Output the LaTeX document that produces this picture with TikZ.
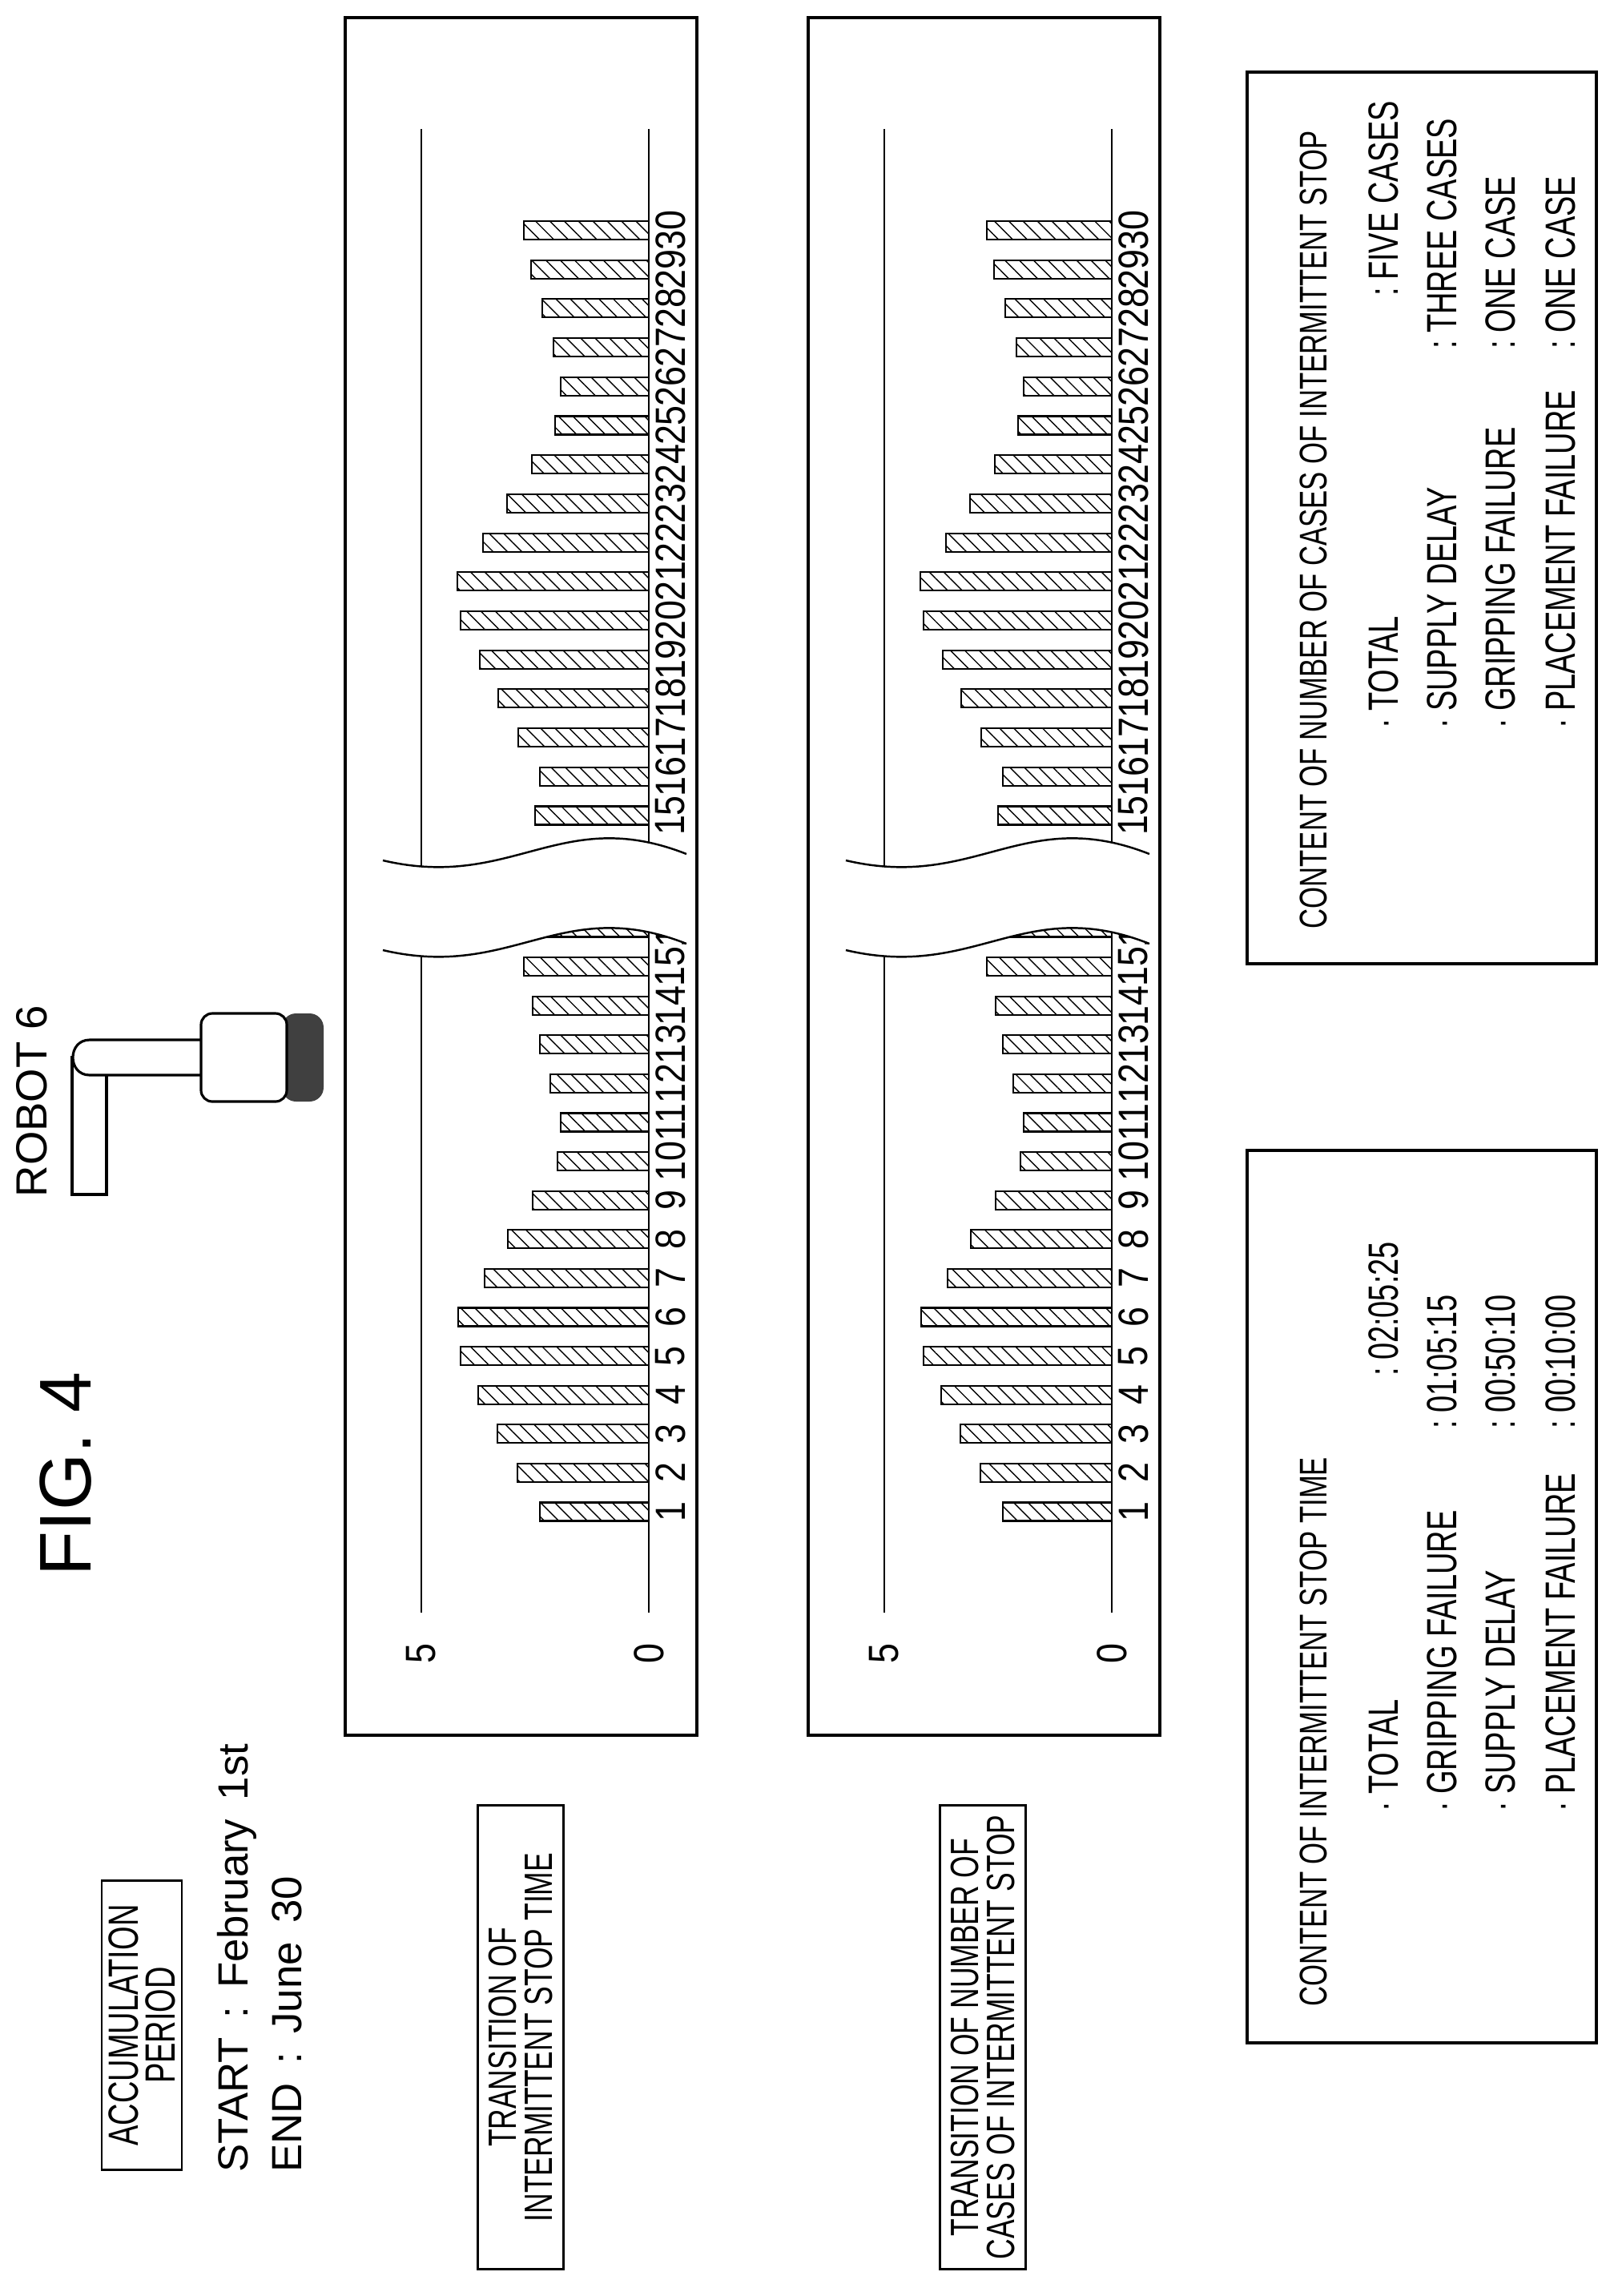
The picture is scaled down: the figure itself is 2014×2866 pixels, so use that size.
\documentclass[tikz,border=0pt]{standalone}
\usepackage{fontspec}
\usepackage{tikz}
\usetikzlibrary{patterns.meta}
\setmainfont{Liberation Sans}
\newfontfamily\narrowfont{Liberation Sans}[FakeStretch=0.72]
\newfontfamily\digitfont{Liberation Sans}[FakeStretch=0.85]

\tikzset{
  frame/.style={draw, line width=1.1pt},
  axisline/.style={line width=0.8pt},
  bar/.style={draw, line width=0.6pt, pattern={Lines[angle=-45, distance=3.6pt, line width=0.4pt]}},
  vtext/.style={rotate=90, inner sep=0pt},
  caption/.style={draw, line width=0.8pt, rotate=90, align=center, inner sep=2pt, font=\narrowfont\fontsize{14}{13}\selectfont},
  itemtext/.style={rotate=90, anchor=west, inner sep=0pt, font=\narrowfont\fontsize{15}{15}\selectfont},
  ticklabel/.style={rotate=90, inner sep=0pt, font=\digitfont\fontsize{15}{15}\selectfont},
}

\begin{document}
\begin{tikzpicture}[x=0.01cm, y=-0.01cm]
        \useasboundingbox (0,0) rectangle (2014,2866);

        % Titles
        \node (fig) [vtext, font=\fontsize{26}{26}\selectfont] at (82,1840) {FIG. 4};
        \node (robotlabel) [vtext, anchor=west, font=\fontsize{15.5}{16}\selectfont] at (40,1495) {ROBOT 6};
        \node (period) [caption, minimum width=3.61cm, minimum height=1.0cm, font=\narrowfont\fontsize{15}{13}\selectfont] at (177,2528) {ACCUMULATION\\PERIOD};
        \node (start) [vtext, anchor=west, font=\fontsize{15}{15}\selectfont] at (296,2712) {START\, :\, February\, 1st};
        \node (end) [vtext, anchor=west, font=\fontsize{15}{15}\selectfont] at (358,2712) {END\, :\, June\, 30};
        \node (timecap) [caption, minimum width=5.79cm, minimum height=1.07cm] at (650,2543) {TRANSITION OF\\INTERMITTENT STOP TIME};
        \node (casecap) [caption, minimum width=5.79cm, minimum height=1.07cm] at (1227,2543) {TRANSITION OF NUMBER OF\\CASES OF INTERMITTENT STOP};

        % Robot
        \draw[line width=0.9pt] (90,1320) rectangle (133,1491);
        \draw[line width=0.9pt, fill=white] (251,1298) -- (112,1298) .. controls (84,1298) and (84,1342) .. (112,1342) -- (251,1342);
        \fill[black!75, rounded corners=5pt] (352,1265) rectangle (404,1375);
        \draw[line width=0.9pt, fill=white, rounded corners=4pt] (251,1265) rectangle (358,1375);

        % Charts
        \foreach \dx/\nm in {0/time, 578/cases} {
          \begin{scope}[xshift=\dx*0.01cm]
            \draw[frame] (431,22) rectangle (870,2166);
            \draw[axisline] (810,161) -- (810,2013);
            \draw[axisline] (526,161) -- (526,2013);
            \node (\nm-zero) [ticklabel] at (810,2064) {0};
            \node (\nm-five) [ticklabel] at (526,2064) {5};
            \foreach \i/\len in {1/136, 2/164, 3/189, 4/213, 5/235, 6/238, 7/205, 8/176, 9/145, 10/114, 11/110, 12/123, 13/136, 14/145, 15/156, 16/150} {
              \draw[bar] (810-\len,1887-\i*48.6+48.6-11.5) rectangle (810,1887-\i*48.6+48.6+11.5);
              \node (\nm-a\i) [ticklabel] at (837,1887-\i*48.6+48.6) {\i};
            }
            \foreach \i/\len in {15/142, 16/136, 17/163, 18/188, 19/211, 20/235, 21/239, 22/207, 23/177, 24/146, 25/117, 26/110, 27/119, 28/133, 29/147, 30/156} {
              \draw[bar] (810-\len,1018-\i*48.7+730.5-11.5) rectangle (810,1018-\i*48.7+730.5+11.5);
              \node (\nm-b\i) [ticklabel] at (837,1018-\i*48.7+730.5) {\i};
            }
            % break
            \fill[white] (478,1074) .. controls (640,1112) and (700,1004) .. (857,1066)
              -- (857,1178) .. controls (700,1116) and (640,1224) .. (478,1186) -- cycle;
            \draw[line width=0.7pt] (478,1074) .. controls (640,1112) and (700,1004) .. (857,1066);
            \draw[line width=0.7pt] (478,1186) .. controls (640,1224) and (700,1116) .. (857,1178);
          \end{scope}
        }

        % Content boxes
        \draw[frame] (1557,1436) rectangle (1993,2550);
        \node (timetitle) [itemtext, font=\narrowfont\fontsize{13.7}{14}\selectfont] at (1640,2505) {CONTENT OF INTERMITTENT STOP TIME};
        \foreach \x/\name/\cy/\val [count=\k] in {1727/TOTAL/1718/02:05:25, 1800/GRIPPING FAILURE/1784/01:05:15, 1873/SUPPLY DELAY/1784/00:50:10, 1948/PLACEMENT FAILURE/1784/00:10:00} {
          \node (timeitem\k) [itemtext] at (\x,2262) {·\,\name};
          \node (timeval\k) [itemtext] at (\x,\cy) {:\,\val};
        }

        \draw[frame] (1557,90) rectangle (1993,1203);
        \node (casetitle) [itemtext, font=\narrowfont\fontsize{13.7}{14}\selectfont] at (1640,1160) {CONTENT OF NUMBER OF CASES OF INTERMITTENT STOP};
        \foreach \x/\name/\cy/\val [count=\k] in {1727/TOTAL/370/FIVE CASES, 1800/SUPPLY DELAY/436/THREE CASES, 1873/GRIPPING FAILURE/436/ONE CASE, 1948/PLACEMENT FAILURE/436/ONE CASE} {
          \node (caseitem\k) [itemtext] at (\x,910) {·\,\name};
          \node (caseval\k) [itemtext] at (\x,\cy) {:\,\val};
        }

    \end{tikzpicture}
\end{document}
